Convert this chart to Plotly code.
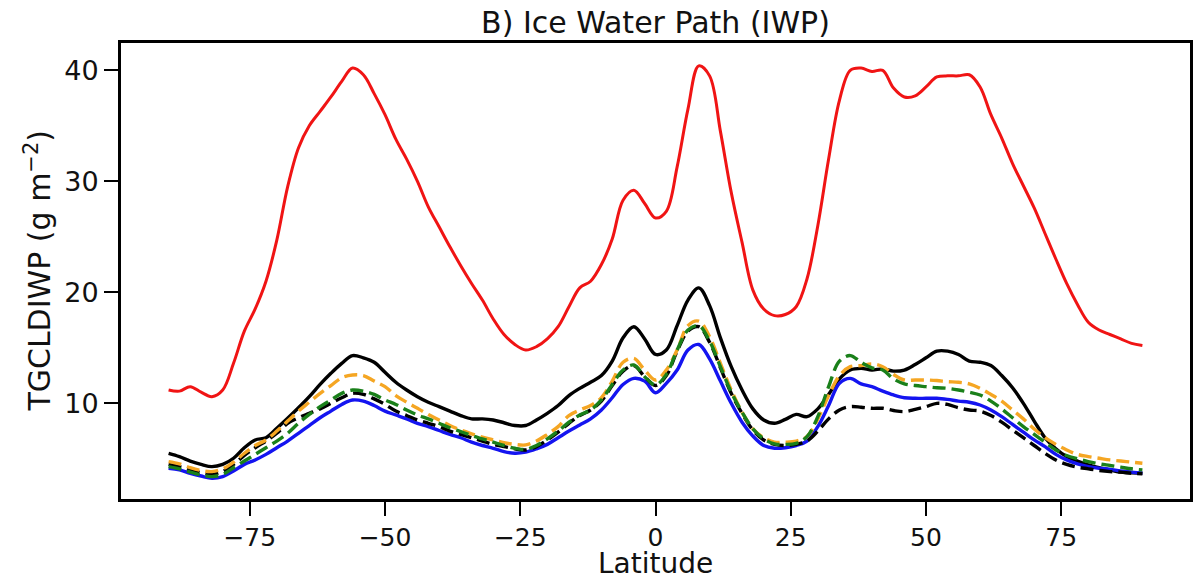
import plotly.graph_objects as go

latitude = list(range(-90, 91, 2))

red_solid = [11.2, 11.1, 11.5, 11.0, 10.6, 11.2, 13.6, 16.5, 18.5, 21.0,
             24.7, 29.5, 33.0, 35.0, 36.3, 37.6, 39.0, 40.2, 39.6, 37.9,
             36.0, 33.8, 32.0, 30.0, 27.7, 25.9, 24.1, 22.4, 20.8, 19.3,
             17.6, 16.2, 15.3, 14.8, 15.1, 15.8, 16.9, 18.7, 20.4, 21.0,
             22.5, 24.8, 28.3, 29.2, 28.0, 26.7, 27.3, 31.3, 36.5, 40.4,
             39.5, 34.5, 29.0, 24.5, 20.2, 18.5, 17.9, 18.0, 18.7, 21.2,
             26.0, 32.0, 37.3, 40.0, 40.2, 39.9, 40.0, 38.4, 37.6, 37.7,
             38.5, 39.4, 39.5, 39.5, 39.6, 38.5, 36.0, 33.9, 31.6, 29.6,
             27.6, 25.3, 23.0, 20.8, 18.9, 17.3, 16.6, 16.2, 15.8, 15.4,
             15.2]

black_solid = [5.5, 5.2, 4.8, 4.5, 4.3, 4.5, 5.05, 6.0, 6.7, 6.9,
               7.75, 8.65, 9.6, 10.6, 11.7, 12.7, 13.6, 14.3, 14.1, 13.7,
               12.8, 11.9, 11.2, 10.6, 10.1, 9.7, 9.3, 8.9, 8.6, 8.6,
               8.5, 8.25, 8.0, 8.0, 8.5, 9.1, 9.8, 10.7, 11.35, 11.9,
               12.5, 13.8, 15.9, 16.9, 15.8, 14.4, 14.8, 17.0, 19.3, 20.4,
               18.8, 15.9, 13.3, 11.2, 9.5, 8.5, 8.2, 8.55, 9.0, 8.8,
               9.5, 10.8, 12.2, 13.0, 13.15, 13.0, 13.1, 12.9, 13.0, 13.5,
               14.1, 14.7, 14.7, 14.4, 13.8, 13.7, 13.4, 12.5, 11.4, 10.0,
               8.4, 6.9, 5.9, 5.2, 4.8, 4.45, 4.2, 4.0, 3.8, 3.75,
               3.7]

black_dashed = [4.5, 4.3, 4.0, 3.75, 3.6, 3.85, 4.5, 5.3, 6.0, 6.6,
                7.3, 8.2, 8.7, 9.1, 9.5, 10.0, 10.5, 10.9, 10.8, 10.4,
                9.9, 9.3, 8.9, 8.5, 8.2, 7.9, 7.5, 7.2, 6.9, 6.6,
                6.3, 6.1, 5.9, 5.8, 6.1, 6.7, 7.4, 8.2, 8.9, 9.4,
                10.2, 11.6, 12.9, 13.4, 12.4, 11.6, 12.5, 14.7, 16.5, 16.9,
                15.5, 13.2, 10.9, 9.1, 7.6, 6.7, 6.3, 6.2, 6.3, 6.6,
                7.5, 8.6, 9.4, 9.7, 9.65, 9.55, 9.55, 9.35, 9.25, 9.45,
                9.7, 10.0, 9.9, 9.6, 9.4, 9.3, 8.9, 8.3, 7.6, 6.9,
                6.2, 5.5, 4.9, 4.5, 4.25, 4.1, 3.95, 3.85, 3.8, 3.7,
                3.65]

orange_dashed = [4.75, 4.55, 4.2, 3.95, 3.85, 4.1, 4.7, 5.5, 6.2, 6.7,
                 7.5, 8.4, 9.3, 10.1, 10.9, 11.6, 12.3, 12.55, 12.5, 12.0,
                 11.5, 10.7, 10.1, 9.55, 9.0, 8.5, 8.0, 7.6, 7.25, 6.95,
                 6.7, 6.45, 6.3, 6.25, 6.6, 7.2, 7.9, 8.9, 9.4, 9.8,
                 10.5, 12.0, 13.7, 14.05, 13.0, 12.1, 13.0, 14.8, 17.0, 17.4,
                 16.0, 13.6, 11.2, 9.2, 7.7, 6.9, 6.5, 6.5, 6.6, 7.0,
                 8.6, 10.7, 12.5, 13.3, 13.4, 13.55, 13.3, 12.6, 12.1, 12.1,
                 12.1, 12.05, 11.95, 11.9, 11.75, 11.35, 10.8, 10.2, 9.4, 8.6,
                 7.7, 6.9, 6.3, 5.8, 5.4, 5.2, 5.05, 4.9, 4.8, 4.7,
                 4.6]

green_dashed = [4.3, 4.1, 3.8, 3.55, 3.4, 3.6, 4.2, 4.8, 5.4, 6.0,
                6.6, 7.3, 8.2, 9.0, 9.7, 10.3, 10.9, 11.2, 11.1, 10.8,
                10.3, 9.9, 9.4, 8.95, 8.6, 8.2, 7.8, 7.45, 7.1, 6.8,
                6.5, 6.2, 5.95, 5.85, 6.2, 6.8, 7.5, 8.3, 8.95, 9.4,
                10.3, 11.7, 13.0, 13.45, 12.4, 11.65, 12.6, 14.8, 16.6, 17.0,
                15.6, 13.3, 11.0, 9.2, 7.7, 6.8, 6.35, 6.3, 6.4, 7.0,
                8.8, 11.5, 13.8, 14.3, 13.7, 13.2, 13.0, 12.2, 11.75, 11.6,
                11.5, 11.4, 11.35, 11.2, 11.0, 10.75, 10.2, 9.5, 8.7, 7.9,
                7.2, 6.5, 5.8, 5.3, 5.0, 4.75, 4.55, 4.4, 4.25, 4.1,
                4.0]

blue_solid = [4.15, 4.0, 3.7, 3.45, 3.25, 3.4, 3.9, 4.5, 4.9, 5.4,
              6.0, 6.6, 7.3, 8.0, 8.7, 9.3, 9.9, 10.3, 10.2, 9.8,
              9.3, 8.95, 8.6, 8.2, 7.9, 7.55, 7.2, 6.9, 6.5, 6.2,
              5.95, 5.65, 5.5, 5.6, 5.9, 6.3, 6.9, 7.5, 8.05, 8.6,
              9.4, 10.5, 11.7, 12.25, 12.0, 10.95, 11.8, 13.0, 14.8, 15.3,
              14.0, 12.0, 10.0, 8.3, 7.05, 6.2, 5.95, 6.0, 6.2, 6.6,
              7.9, 9.8, 11.8, 12.25, 11.75, 11.5, 11.1, 10.75, 10.5, 10.45,
              10.45, 10.45, 10.35, 10.2, 10.1, 9.85, 9.4, 8.8, 8.1, 7.4,
              6.7, 6.1, 5.4, 4.9, 4.55, 4.3, 4.15, 4.05, 3.9, 3.8,
              3.7]

x_ticks = [-75, -50, -25, 0, 25, 50, 75]
x_tick_labels = ["\u221275", "\u221250", "\u221225", "0", "25", "50", "75"]
y_ticks = [10, 20, 30, 40]
y_tick_labels = ["10", "20", "30", "40"]

series = [
    ("red", red_solid, "#f01414", "solid", 3.0),
    ("black", black_solid, "#000000", "solid", 3.4),
    ("blue", blue_solid, "#1414f0", "solid", 3.4),
    ("black dashed", black_dashed, "#000000", "13px,6px", 3.4),
    ("orange", orange_dashed, "#f5a623", "13px,6px", 3.4),
    ("green", green_dashed, "#1a801a", "13px,6px", 3.4),
]

fig = go.Figure()
for name, vals, color, dash, lw in series:
    fig.add_trace(go.Scatter(
        x=latitude, y=vals, mode="lines", name=name,
        line=dict(color=color, width=lw, dash=dash, shape="spline", smoothing=1.0),
        showlegend=False,
    ))

font_family = "DejaVu Sans, Verdana, sans-serif"
text_color = "#111111"
fig.update_layout(
    width=1201, height=581,
    margin=dict(l=121, r=11, t=43, b=82, autoexpand=False),
    paper_bgcolor="white", plot_bgcolor="white",
    font=dict(family=font_family, color=text_color, size=26),
    title=dict(text="B) Ice Water Path (IWP)", x=0.5, xref="paper", xanchor="center",
               y=0.962, yref="container", yanchor="middle",
               font=dict(size=30, family=font_family, color=text_color)),
    annotations=[
        dict(text="Latitude", xref="paper", yref="paper", x=0.5, y=-0.141,
             xanchor="center", yanchor="middle", showarrow=False,
             font=dict(size=28, family=font_family, color=text_color)),
        dict(text="TGCLDIWP (g m<sup>\u22122</sup>)", xref="paper", yref="paper",
             x=-0.078, y=0.5, xanchor="center", yanchor="middle", textangle=-90,
             showarrow=False, font=dict(size=30, family=font_family, color=text_color)),
    ],
)
fig.update_xaxes(
    range=[-98.8, 98.8], tickmode="array", tickvals=x_ticks, ticktext=x_tick_labels,
    ticks="outside", ticklen=14, tickwidth=2.4, tickcolor="black",
    showline=True, linewidth=2.8, linecolor="black", mirror=True,
    showgrid=False, zeroline=False, automargin=False,
    tickfont=dict(size=25, family=font_family, color=text_color),
)
fig.update_yaxes(
    range=[1.38, 42.46], tickmode="array", tickvals=y_ticks, ticktext=y_tick_labels,
    ticks="outside", ticklen=14, tickwidth=2.4, tickcolor="black",
    showline=True, linewidth=2.8, linecolor="black", mirror=True,
    showgrid=False, zeroline=False, automargin=False,
    tickfont=dict(size=27, family=font_family, color=text_color),
)

fig.write_html("out.html")
